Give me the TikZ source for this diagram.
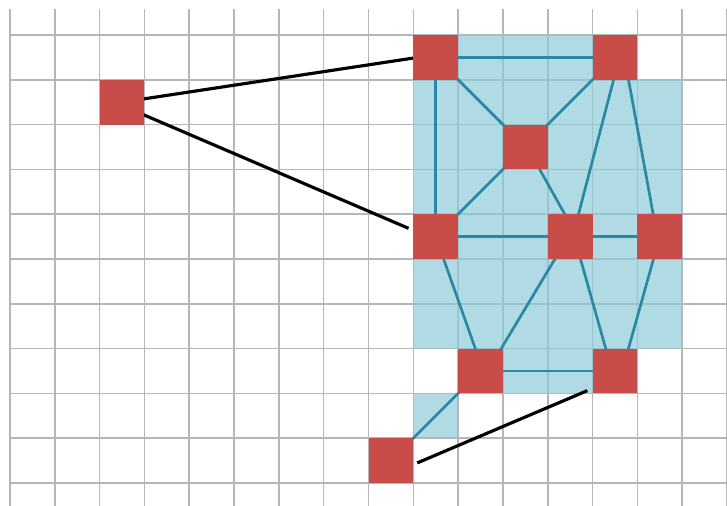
\documentclass[tikz,border=0pt]{standalone}
\usetikzlibrary{calc}
\pgfdeclarelayer{bg}
\pgfdeclarelayer{edges}
\pgfsetlayers{bg,edges,main}
\definecolor{gridgray}{RGB}{182,182,182}
\definecolor{regionblue}{RGB}{142,202,216}
\definecolor{cellred}{RGB}{200,76,72}
\definecolor{linkteal}{RGB}{42,136,164}
\tikzset{
  cellnode/.style={rectangle,fill=cellred,draw=none,minimum size=1cm,inner sep=0pt},
  link/.style={draw=linkteal,line width=1.7pt},
  tie/.style={draw=black,line width=2pt},
  gridline/.style={draw=gridgray,line width=1pt}
}
\begin{document}
\begin{tikzpicture}
\useasboundingbox (-0.223,-10.5) rectangle (16.0,0.78);
\clip (-0.223,-10.5) rectangle (16.0,0.78);
% nodes
\node[cellnode] (A) at (2.5,-1.5) {};
\node[cellnode] (B) at (9.5,-0.5) {};
\node[cellnode] (C) at (13.5,-0.5) {};
\node[cellnode] (D) at (11.5,-2.5) {};
\node[cellnode] (E) at (9.5,-4.5) {};
\node[cellnode] (F) at (12.5,-4.5) {};
\node[cellnode] (G) at (14.5,-4.5) {};
\node[cellnode] (H) at (10.5,-7.5) {};
\node[cellnode] (I) at (13.5,-7.5) {};
\node[cellnode] (J) at (8.5,-9.5) {};
\begin{pgfonlayer}{bg}
  % grid
  \foreach \x in {0,...,16} \draw[gridline] (\x,0.58) -- (\x,-10.6);
  \foreach \y in {0,...,10} \draw[gridline] (0,-\y) -- (16.3,-\y);
  % region
  \fill[regionblue,opacity=0.7] (9,0) -- (14,0) -- (14,-1) -- (15,-1) -- (15,-7) -- (14,-7) -- (14,-8) -- (10,-8) -- (10,-7) -- (9,-7) -- cycle;
  \fill[regionblue,opacity=0.7] (9,-8) rectangle (10,-9);
\end{pgfonlayer}
\begin{pgfonlayer}{edges}
  \draw[link] (B.center) -- (C.center);
  \draw[link] (B.center) -- (E.center);
  \draw[link] (B.center) -- (D.center);
  \draw[link] (C.center) -- (D.center);
  \draw[link] (D.center) -- (E.center);
  \draw[link] ([xshift=0.04cm]D.center) -- ([xshift=0.16cm]F.center);
  \draw[link] ([xshift=0.1cm]C.center) -- ([xshift=0.055cm]F.center);
  \draw[link] ([xshift=0.21cm]C.center) -- ([xshift=-0.055cm]G.center);
  \draw[link] (E.center) -- (F.center);
  \draw[link] (F.center) -- (G.center);
  \draw[link] (E.center) -- ([xshift=0.06cm]H.center);
  \draw[link] ([xshift=-0.04cm]F.center) -- ([xshift=0.16cm]H.center);
  \draw[link] ([xshift=0.09cm]F.center) -- ([xshift=-0.065cm]I.center);
  \draw[link] (G.center) -- ([xshift=0.16cm]I.center);
  \draw[link] (H.center) -- (I.center);
  \draw[link] (J.center) -- (H.center);
  \draw[tie] (A.center) -- ([yshift=0.06cm]B.center);
  \draw[tie,shorten >=0.66cm] ([yshift=-0.075cm]A.center) -- ([yshift=-0.075cm]E.center);
  \draw[tie] ([xshift=0.08cm,yshift=-0.05cm]J.east) -- ([xshift=-0.11cm,yshift=0.07cm]I.south west);
\end{pgfonlayer}
\end{tikzpicture}
\end{document}
